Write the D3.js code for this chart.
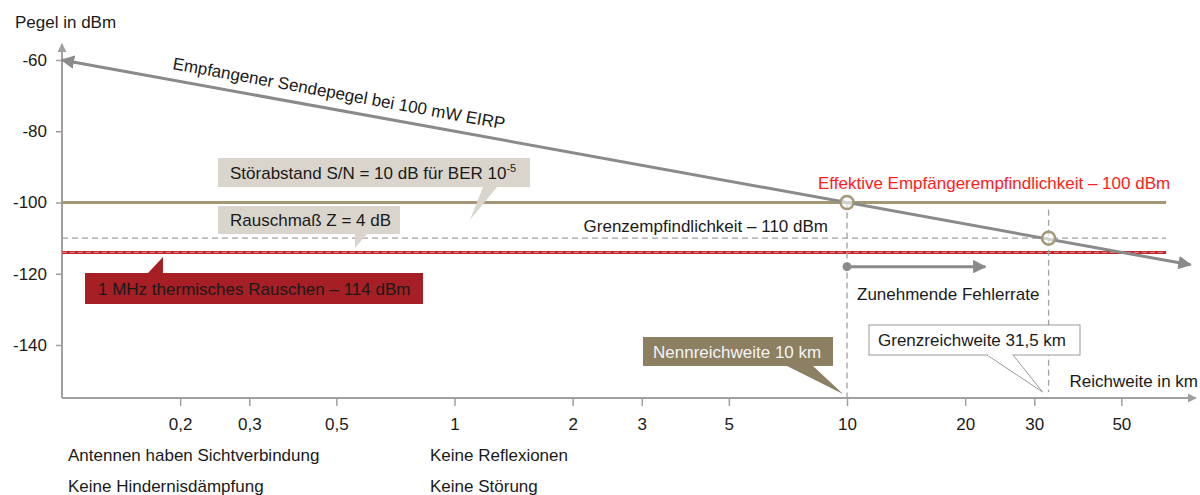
<!DOCTYPE html>
<html><head><meta charset="utf-8">
<script src="https://cdn.jsdelivr.net/npm/d3@7"></script>
<style>body{margin:0;background:#fff} text{font-family:"Liberation Sans",Arial,sans-serif;fill:#1a1a1a;}</style>
</head><body><svg id="c" width="1200" height="495"></svg>
<script>
// ---- data ----
const yTicks = [-60, -80, -100, -120, -140];
const xTicks = [0.2, 0.3, 0.5, 1, 2, 3, 5, 10, 20, 30, 50];
const sendDist = [0.1, 75];          // km
const sendLevel = [-60, -117.5];     // dBm
const snLevel = -100;
const grenzLevel = -110;
const noiseLevel = -114;
const hLineDist = [0.1, 65];
const markDist = [10, 31.5];
const markLevel = [-100, -110];
const errDist = [10, 22.5];
const errLevel = -118;

const svg = d3.select('#c');
const x = d3.scaleLog().domain([0.1, 10]).range([62, 847]);
const y = d3.scaleLinear().domain([-60, -140]).range([60, 345]);
const axisY = 398;
const FS = 17;

const defs = svg.append('defs');
function marker(id, color, orient) {
  defs.append('marker').attr('id', id).attr('viewBox', '0 0 10 10').attr('refX', 9).attr('refY', 5)
    .attr('markerWidth', 4.5).attr('markerHeight', 4.5).attr('orient', orient || 'auto-start-reverse')
    .attr('markerUnits', 'strokeWidth')
    .append('path').attr('d', 'M0,0 L10,5 L0,10 z').attr('fill', color);
}
marker('ga', '#8a8a8a');
marker('axa', '#a0a0a0');

// axes
svg.append('line').attr('x1', 62).attr('x2', 62).attr('y1', axisY).attr('y2', 44)
  .attr('stroke', '#a0a0a0').attr('stroke-width', 2).attr('marker-end', 'url(#axa)');
svg.append('line').attr('x1', 62).attr('x2', 1196).attr('y1', axisY).attr('y2', axisY)
  .attr('stroke', '#a0a0a0').attr('stroke-width', 2).attr('marker-end', 'url(#axa)');

const yAx = svg.append('g').attr('transform', 'translate(62,0)')
  .call(d3.axisLeft(y).tickValues(yTicks).tickSize(6).tickPadding(9).tickFormat(d => d));
yAx.select('.domain').remove();
yAx.selectAll('line').attr('stroke', '#a0a0a0').attr('stroke-width', 1.5);
yAx.selectAll('text').attr('font-size', FS).attr('font-family', '"Liberation Sans",Arial,sans-serif').attr('fill', '#1a1a1a');

const xAx = svg.append('g').attr('transform', `translate(0,${axisY})`)
  .call(d3.axisBottom(x).tickValues(xTicks).tickSize(8).tickPadding(12)
    .tickFormat(d => String(d).replace('.', ',')));
xAx.select('.domain').remove();
xAx.selectAll('line').attr('stroke', '#a0a0a0').attr('stroke-width', 1.5);
xAx.selectAll('text').attr('font-size', FS).attr('font-family', '"Liberation Sans",Arial,sans-serif').attr('fill', '#1a1a1a');

svg.append('text').attr('x', 15).attr('y', 28).attr('font-size', FS).text('Pegel in dBm');
svg.append('text').attr('x', 1198).attr('y', 387).attr('text-anchor', 'end').attr('font-size', FS).text('Reichweite in km');

// horizontal reference lines
svg.append('line').attr('x1', x(hLineDist[0])).attr('x2', x(hLineDist[1])).attr('y1', y(grenzLevel)).attr('y2', y(grenzLevel))
  .attr('stroke', '#a0a0a0').attr('stroke-width', 1.3).attr('stroke-dasharray', '6,4');
svg.append('line').attr('x1', x(hLineDist[0])).attr('x2', x(hLineDist[1])).attr('y1', y(noiseLevel)).attr('y2', y(noiseLevel))
  .attr('stroke', '#c0272d').attr('stroke-width', 3);
svg.append('line').attr('x1', x(hLineDist[0])).attr('x2', x(hLineDist[1])).attr('y1', y(noiseLevel)).attr('y2', y(noiseLevel))
  .attr('stroke', '#e58a8a').attr('stroke-width', 1).attr('stroke-dasharray', '5,3');
svg.append('line').attr('x1', x(hLineDist[0])).attr('x2', x(hLineDist[1])).attr('y1', y(snLevel)).attr('y2', y(snLevel))
  .attr('stroke', '#a39776').attr('stroke-width', 3);

// vertical dashed lines
svg.append('line').attr('x1', x(markDist[0])).attr('x2', x(markDist[0])).attr('y1', y(markLevel[0])).attr('y2', axisY)
  .attr('stroke', '#a0a0a0').attr('stroke-width', 1.3).attr('stroke-dasharray', '6,4');
svg.append('line').attr('x1', x(markDist[1]) + 6).attr('x2', x(markDist[1]) + 6).attr('y1', y(-102)).attr('y2', axisY - 6)
  .attr('stroke', '#a0a0a0').attr('stroke-width', 1.3).attr('stroke-dasharray', '6,4');

// send level line
const line = d3.line().x(d => x(d[0])).y(d => y(d[1]));
const sendData = sendDist.map((d, i) => [d, sendLevel[i]]);
svg.append('path').attr('d', line(sendData)).attr('stroke', '#8a8a8a').attr('stroke-width', 3).attr('fill', 'none')
  .attr('marker-start', 'url(#ga)').attr('marker-end', 'url(#ga)');
const ang = Math.atan2(y(sendLevel[1]) - y(sendLevel[0]), x(sendDist[1]) - x(sendDist[0])) * 180 / Math.PI;
{
  const lx = 172;
  const ly = y(sendLevel[0]) + (lx - x(sendDist[0])) * Math.tan(ang * Math.PI / 180) - 11;
  svg.append('text').attr('transform', `translate(${lx},${ly}) rotate(${ang})`).attr('font-size', FS)
    .text('Empfangener Sendepegel bei 100 mW EIRP');
}

// circles
svg.selectAll('circle.mk').data(markDist.map((d, i) => [d, markLevel[i]])).enter().append('circle')
  .attr('class', 'mk').attr('cx', d => x(d[0]) + (d[0] > 20 ? 6 : 0)).attr('cy', d => y(d[1])).attr('r', 6.5)
  .attr('fill', 'rgba(255,255,255,0.6)').attr('stroke', '#a39776').attr('stroke-width', 2.5);

// error arrow
svg.append('line').attr('x1', x(errDist[0])).attr('x2', x(errDist[1])).attr('y1', y(errLevel)).attr('y2', y(errLevel))
  .attr('stroke', '#8a8a8a').attr('stroke-width', 3).attr('marker-end', 'url(#ga)');
svg.append('circle').attr('cx', x(errDist[0])).attr('cy', y(errLevel)).attr('r', 4.5).attr('fill', '#8a8a8a');
svg.append('text').attr('x', x(errDist[0]) + 10).attr('y', 300).attr('font-size', FS).text('Zunehmende Fehlerrate');

svg.append('text').attr('x', 828).attr('y', 232).attr('text-anchor', 'end').attr('font-size', FS).text('Grenzempfindlichkeit – 110 dBm');
svg.append('text').attr('x', 818).attr('y', 189).attr('font-size', FS).style('fill', '#ff2020').text('Effektive Empfängerempfindlichkeit – 100 dBm');

// callouts
function callout(rx, ry, rw, rh, tri, fill, stroke, txt, tcol, tx) {
  const g = svg.append('g');
  g.append('rect').attr('x', rx).attr('y', ry).attr('width', rw).attr('height', rh).attr('fill', fill)
    .attr('stroke', stroke || 'none').attr('stroke-width', 1);
  g.append('path').attr('d', 'M' + tri.map(p => p.join(',')).join('L')).attr('fill', fill)
    .attr('stroke', stroke || 'none').attr('stroke-width', 1);
  if (stroke) g.append('line').attr('x1', tri[0][0] + 1).attr('x2', tri[2][0] - 1).attr('y1', ry + rh).attr('y2', ry + rh)
    .attr('stroke', fill).attr('stroke-width', 2);
  const t = g.append('text').attr('x', tx).attr('y', ry + rh / 2).attr('dy', '0.36em').attr('font-size', FS).style('fill', tcol);
  return t;
}
const t1 = callout(218, 158, 312, 29, [[483, 187], [470, 220], [497, 187]], '#d9d5cc', null, '', '#1a1a1a', 230);
t1.append('tspan').text('Störabstand S/N = 10 dB für BER 10');
t1.append('tspan').attr('font-size', 11).attr('dy', '-0.6em').text('-5');
callout(218, 206, 182, 28, [[355, 234], [355, 248], [367, 234]], '#d9d5cc', null, '', '#1a1a1a', 230).text('Rauschmaß Z = 4 dB');
callout(85, 273, 338, 31, [[148, 273], [163, 257], [163, 273]], '#a51f24', null, '', '#1a1a1a', 98).text('1 MHz thermisches Rauschen – 114 dBm');
callout(643, 337, 190, 29, [[787, 366], [x(markDist[0]) - 4, axisY - 4], [813, 366]], '#8c7f62', null, '', '#f4f4f4', 653).text('Nennreichweite 10 km');
callout(869, 325, 211, 30, [[987, 355], [x(markDist[1]), axisY - 6], [1013, 355]], '#ffffff', '#9a9a9a', '', '#1a1a1a', 878).text('Grenzreichweite 31,5 km');

// bottom notes
svg.append('text').attr('x', 68).attr('y', 461).attr('font-size', FS).text('Antennen haben Sichtverbindung');
svg.append('text').attr('x', 68).attr('y', 492).attr('font-size', FS).text('Keine Hindernisdämpfung');
svg.append('text').attr('x', 430).attr('y', 461).attr('font-size', FS).text('Keine Reflexionen');
svg.append('text').attr('x', 430).attr('y', 492).attr('font-size', FS).text('Keine Störung');
</script></body></html>
